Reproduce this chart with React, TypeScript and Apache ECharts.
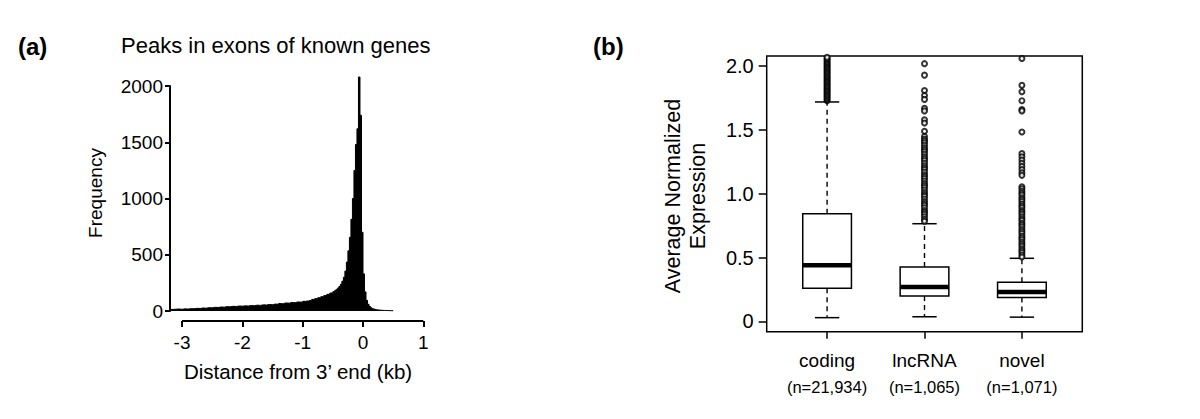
import React, { useEffect, useRef } from 'react';
import * as echarts from 'echarts';

const FONT = '"Liberation Sans", Arial, Helvetica, sans-serif';

// ---- Panel (a): histogram of peak distances from 3' end (kb) ----
const histTailStart = -3.2;
const histTailWidth = 0.05;
const histTailCounts = [
  14, 16, 18, 15, 19, 17, 21, 20, 24, 22,
  27, 25, 30, 28, 33, 31, 36, 34, 39, 37,
  42, 40, 45, 43, 46, 44, 49, 47, 52, 50,
  55, 53, 58, 56, 62, 59, 66, 63, 71, 68,
  75, 73, 80, 78, 86, 90, 96, 103, 110, 118,
  127, 137, 148, 160,
];
const histPeakStart = -0.5;
const histPeakWidth = 0.025;
const histPeakCounts = [
  172, 180, 190, 203, 218, 238, 265, 300, 355, 435,
  535, 655, 815, 1000, 1250, 1480, 1620, 2080, 1740, 700,
  330, 170, 95, 60, 40, 28, 20, 15, 12, 10,
  8, 7, 6, 5, 5, 4, 4, 3, 3, 2,
];
const histEnd = 0.5;
const xTicksA = [-3, -2, -1, 0, 1];
const yTicksA = [0, 500, 1000, 1500, 2000];

// ---- Panel (b): box plots ----
const categories = ['coding', 'lncRNA', 'novel'];
const sampleSizes = ['(n=21,934)', '(n=1,065)', '(n=1,071)'];
const whiskerLow = [0.03, 0.037, 0.034];
const quartile1 = [0.26, 0.2, 0.188];
const medians = [0.44, 0.27, 0.232];
const quartile3 = [0.845, 0.427, 0.308];
const whiskerHigh = [1.72, 0.766, 0.495];
const codingOutliers = [
  1.73, 1.74, 1.75, 1.76, 1.77, 1.78, 1.79, 1.8, 1.81, 1.82,
  1.83, 1.84, 1.85, 1.86, 1.87, 1.88, 1.89, 1.9, 1.91, 1.92,
  1.93, 1.94, 1.95, 1.96, 1.97, 1.98, 1.99, 2.0, 2.01, 2.02,
  2.03, 2.04, 2.05, 2.06, 2.07, 2.09, 2.12,
];
const lncOutliers = [
  2.02, 1.93, 1.81, 1.77, 1.74, 1.67, 1.65, 1.58, 1.555, 1.49,
  1.45, 1.43, 1.415, 1.4, 1.38, 1.36, 1.345, 1.33, 1.31, 1.29,
  1.275, 1.26, 1.24, 1.22, 1.205, 1.19, 1.17, 1.15, 1.135, 1.12,
  1.1, 1.08, 1.065, 1.05, 1.03, 1.01, 0.995, 0.98, 0.96, 0.94,
  0.925, 0.91, 0.89, 0.87, 0.855, 0.84, 0.82, 0.8, 0.785,
];
const novelOutliers = [
  2.06, 1.85, 1.8, 1.73, 1.66, 1.65, 1.485, 1.315, 1.29, 1.265,
  1.24, 1.215, 1.19, 1.165, 1.145, 1.055, 1.04, 1.02, 1.005, 0.99,
  0.97, 0.955, 0.94, 0.92, 0.905, 0.89, 0.87, 0.855, 0.84, 0.82,
  0.805, 0.79, 0.77, 0.755, 0.74, 0.72, 0.705, 0.69, 0.67, 0.655,
  0.64, 0.62, 0.605, 0.59, 0.57, 0.555, 0.54, 0.52, 0.505,
];
const yTicksB = [0, 0.5, 1, 1.5, 2];

export default function App() {
  const ref = useRef<HTMLDivElement>(null);

  useEffect(() => {
    if (!ref.current) return;
    const chart = echarts.init(ref.current, null, { renderer: 'svg' });

    const histPoints: number[][] = [];
    histTailCounts.forEach((c, i) => histPoints.push([+(histTailStart + i * histTailWidth).toFixed(4), c]));
    histPeakCounts.forEach((c, i) => histPoints.push([+(histPeakStart + i * histPeakWidth).toFixed(4), c]));
    histPoints.push([histEnd, 0]);

    const boxData = categories.map((_, i) => [
      i + 1, whiskerLow[i], quartile1[i], medians[i], quartile3[i], whiskerHigh[i],
    ]);
    const outlierData: number[][] = [];
    [codingOutliers, lncOutliers, novelOutliers].forEach((arr, i) =>
      arr.forEach((v) => outlierData.push([i + 1, v]))
    );

    const black = '#000';

    const option: any = {
      animation: false,
      textStyle: { fontFamily: FONT, color: black },
      grid: [
        { left: 170, top: 86, width: 253.3, height: 225 },
        {
          left: 766.7, top: 56, width: 315.6, height: 275.7, show: true,
          borderColor: black, borderWidth: 1.5, backgroundColor: 'transparent',
        },
      ],
      xAxis: [
        {
          type: 'value', gridIndex: 0, min: -3.2, max: 1, offset: 10,
          axisLine: { show: false, onZero: false },
          axisTick: { show: true, length: 6, customValues: xTicksA, lineStyle: { color: black, width: 2 } },
          axisLabel: { customValues: xTicksA, margin: 12, fontSize: 19, color: black, fontFamily: FONT },
          splitLine: { show: false },
        },
        {
          type: 'value', gridIndex: 1, min: 0.38, max: 3.62,
          axisLine: { show: false, onZero: false },
          axisTick: { show: true, length: 7, customValues: [1, 2, 3], lineStyle: { color: black, width: 1.5 } },
          axisLabel: {
            customValues: [1, 2, 3], margin: 16, color: black, fontFamily: FONT,
            formatter: (v: number) => {
              const i = Math.round(v) - 1;
              return `{a|${categories[i]}}\n{b|${sampleSizes[i]}}`;
            },
            rich: {
              a: { fontSize: 19, lineHeight: 26, color: black, fontFamily: FONT },
              b: { fontSize: 16.5, lineHeight: 26, color: black, fontFamily: FONT },
            },
          },
          splitLine: { show: false },
        },
      ],
      yAxis: [
        {
          type: 'value', gridIndex: 0, min: 0, max: 2000,
          axisLine: { show: true, onZero: false, lineStyle: { color: black, width: 2 } },
          axisTick: { show: true, length: 5, customValues: yTicksA, lineStyle: { color: black, width: 2 } },
          axisLabel: {
            customValues: yTicksA, margin: 7, fontSize: 19, color: black, fontFamily: FONT,
            formatter: (v: number) => String(v),
          },
          splitLine: { show: false },
        },
        {
          type: 'value', gridIndex: 1, min: -0.08, max: 2.08,
          axisLine: { show: false, onZero: false },
          axisTick: { show: true, length: 8, customValues: yTicksB, lineStyle: { color: black, width: 1.5 } },
          axisLabel: {
            customValues: yTicksB, margin: 13, fontSize: 20, color: black, fontFamily: FONT,
            formatter: (v: number) => (v === 0 ? '0' : v.toFixed(1)),
          },
          splitLine: { show: false },
        },
      ],
      series: [
        {
          type: 'line', xAxisIndex: 0, yAxisIndex: 0, data: histPoints, step: 'end',
          symbol: 'none', clip: false,
          lineStyle: { color: black, width: 1 },
          areaStyle: { color: black, opacity: 1 },
        },
        {
          type: 'custom', xAxisIndex: 1, yAxisIndex: 1, data: boxData,
          renderItem: (params: any, api: any) => {
            const x = api.value(0);
            const pLow = api.coord([x, api.value(1)]);
            const pQ1 = api.coord([x, api.value(2)]);
            const pMed = api.coord([x, api.value(3)]);
            const pQ3 = api.coord([x, api.value(4)]);
            const pHigh = api.coord([x, api.value(5)]);
            const halfBox = api.size([0.25, 0])[0];
            const halfCap = api.size([0.125, 0])[0];
            const cx = pMed[0];
            const dash = { stroke: black, lineWidth: 1.4, lineDash: [5, 4] };
            const solid = { stroke: black, lineWidth: 1.5 };
            return {
              type: 'group',
              children: [
                { type: 'line', shape: { x1: cx, y1: pQ3[1], x2: cx, y2: pHigh[1] }, style: dash },
                { type: 'line', shape: { x1: cx, y1: pQ1[1], x2: cx, y2: pLow[1] }, style: dash },
                { type: 'line', shape: { x1: cx - halfCap, y1: pHigh[1], x2: cx + halfCap, y2: pHigh[1] }, style: solid },
                { type: 'line', shape: { x1: cx - halfCap, y1: pLow[1], x2: cx + halfCap, y2: pLow[1] }, style: solid },
                {
                  type: 'rect',
                  shape: { x: cx - halfBox, y: pQ3[1], width: halfBox * 2, height: pQ1[1] - pQ3[1] },
                  style: { fill: '#fff', stroke: black, lineWidth: 1.5 },
                },
                { type: 'line', shape: { x1: cx - halfBox, y1: pMed[1], x2: cx + halfBox, y2: pMed[1] }, style: { stroke: black, lineWidth: 4.5 } },
              ],
            };
          },
        },
        {
          type: 'scatter', xAxisIndex: 1, yAxisIndex: 1, data: outlierData,
          symbol: 'emptyCircle', symbolSize: 5, clip: true,
          itemStyle: { color: black, borderColor: black, borderWidth: 1.3 },
        },
      ],
      graphic: [
        { id: 'la', type: 'text', x: 18, y: 46, style: { text: '(a)', fontSize: 24, fontWeight: 'bold', fontFamily: FONT, fill: black, textAlign: 'left', textVerticalAlign: 'middle' } },
        { id: 'lb', type: 'text', x: 593, y: 46, style: { text: '(b)', fontSize: 24, fontWeight: 'bold', fontFamily: FONT, fill: black, textAlign: 'left', textVerticalAlign: 'middle' } },
        { id: 'ta', type: 'text', x: 121, y: 45, style: { text: 'Peaks in exons of known genes', fontSize: 22, fontFamily: FONT, fill: black, textAlign: 'left', textVerticalAlign: 'middle' } },
        { id: 'ya', type: 'text', x: 95, y: 193, rotation: Math.PI / 2, style: { text: 'Frequency', fontSize: 19, fontFamily: FONT, fill: black, textAlign: 'center', textVerticalAlign: 'middle' } },
        { id: 'xa', type: 'text', x: 298, y: 371, style: { text: 'Distance from 3\u2019 end (kb)', fontSize: 20.5, fontFamily: FONT, fill: black, textAlign: 'center', textVerticalAlign: 'middle' } },
        { id: 'yb', type: 'text', x: 685, y: 196, rotation: Math.PI / 2, style: { text: 'Average Normalized\nExpression', fontSize: 21.5, lineHeight: 25, fontFamily: FONT, fill: black, textAlign: 'center', textVerticalAlign: 'middle' } },
      ],
    };

    chart.setOption(option);

    const xStart = chart.convertToPixel({ xAxisIndex: 0 } as any, xTicksA[0]) as number;
    const xEnd = chart.convertToPixel({ xAxisIndex: 0 } as any, xTicksA[xTicksA.length - 1]) as number;
    const yBase = (chart.convertToPixel({ yAxisIndex: 0 } as any, 0) as number) + 10;
    chart.setOption({
      graphic: [
        { id: 'xline', type: 'line', shape: { x1: xStart, y1: yBase, x2: xEnd, y2: yBase }, style: { stroke: black, lineWidth: 2 } },
      ],
    });

    return () => chart.dispose();
  }, []);

  return (
    <div
      ref={ref}
      style={{ position: 'absolute', left: 0, top: 0, width: 1200, height: 419, background: '#fff' }}
    />
  );
}
